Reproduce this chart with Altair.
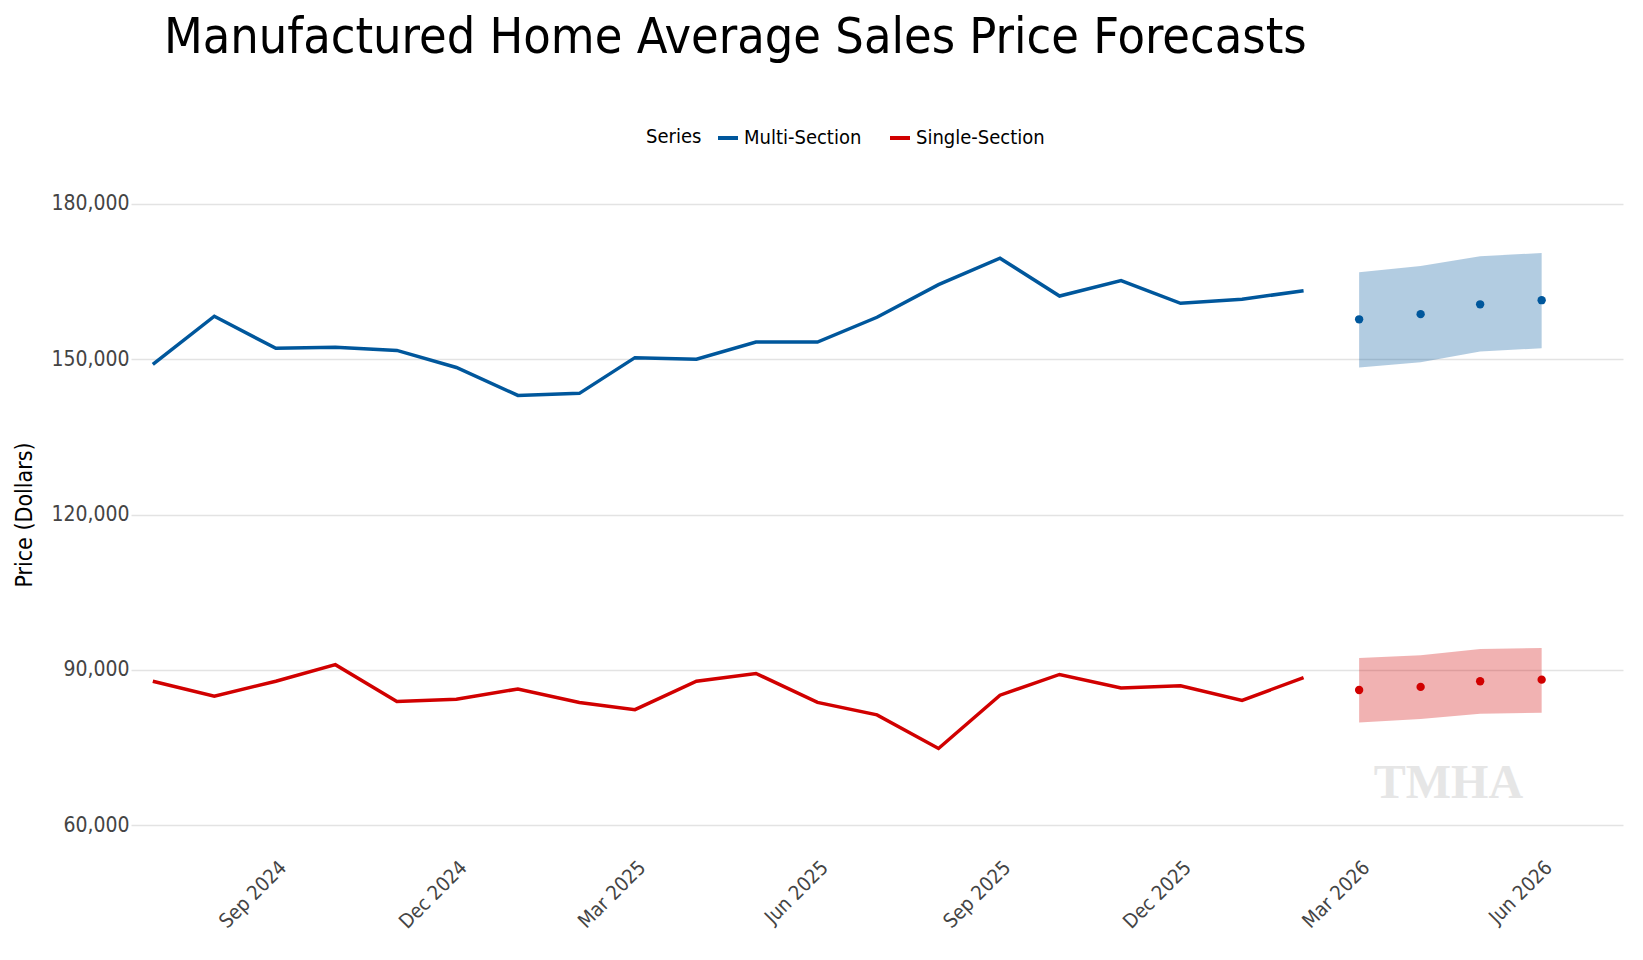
import altair as alt
import pandas as pd

months = pd.date_range("2024-07-01", "2026-02-01", freq="MS")
multi = [149000,158300,152100,152300,151700,148400,143000,143400,150300,150000,153300,153300,158100,164400,169500,162200,165200,160800,161600,163200]
single = [87800,84900,87800,91000,83900,84300,86300,83700,82300,87800,89300,83700,81300,74800,85100,89100,86500,86900,84100,88500]
fc_months = pd.date_range("2026-03-01", "2026-06-01", freq="MS")
multi_fc = [157700,158700,160600,161400]
multi_lo = [148400,149400,151500,152100]
multi_hi = [166800,168000,169900,170500]
single_fc = [86100,86700,87800,88100]
single_lo = [79800,80500,81500,81700]
single_hi = [92300,92800,94000,94200]

hist = pd.DataFrame({"date": list(months)*2, "value": multi+single,
                     "Series": ["Multi-Section"]*20+["Single-Section"]*20})
fc = pd.DataFrame({"date": list(fc_months)*2, "value": multi_fc+single_fc,
                   "lo": multi_lo+single_lo, "hi": multi_hi+single_hi,
                   "Series": ["Multi-Section"]*4+["Single-Section"]*4})

FONT = "DejaVu Sans Condensed, Roboto, sans-serif"
ydom = alt.Scale(domain=[55000,185000], nice=False, zero=False)
color = alt.Color("Series:N",
    scale=alt.Scale(domain=["Multi-Section","Single-Section"], range=["#00579c","#d10000"]),
    legend=alt.Legend(orient="none", legendX=515, legendY=-52, direction="horizontal", title="Series",
                      titleOrient="left", titleFontSize=20, titleFontWeight="normal",
                      labelFontSize=20, symbolType="stroke", symbolStrokeWidth=4,
                      symbolSize=400, symbolOpacity=1, titlePadding=14,
                      labelColor="#000", titleColor="#000", columnPadding=20))
tickvals = [pd.Timestamp(d).isoformat() for d in ["2024-09-01","2024-12-01","2025-03-01","2025-06-01","2025-09-01","2025-12-01","2026-03-01","2026-06-01"]]
x = alt.X("date:T", title=None,
          scale=alt.Scale(domain=["2024-06-20","2026-07-12"]),
          axis=alt.Axis(values=tickvals, format="%b %Y", labelAngle=-45, grid=False,
                        domain=False, ticks=False, labelFontSize=20, labelColor="#444",
                        labelAlign="right", labelBaseline="top", labelPadding=6))
y = alt.Y("value:Q", title="Price (Dollars)", scale=ydom,
          axis=alt.Axis(values=[60000,90000,120000,150000,180000], format=",.0f", domain=False,
                        ticks=False, labelFontSize=21, labelColor="#444", titleFontSize=23,
                        titleFontWeight="normal", titlePadding=14, gridColor="#e3e3e3", gridWidth=1.5))

band = alt.Chart(fc).mark_area(opacity=0.3).encode(
    x=x, y=alt.Y("lo:Q", scale=ydom), y2="hi:Q", color=color)
line = alt.Chart(hist).mark_line(strokeWidth=3.5).encode(x=x, y=y, color=color)
pts = alt.Chart(fc).mark_circle(size=70, opacity=1).encode(x=x, y="value:Q", color=color)
wm = alt.Chart(pd.DataFrame({"date":[pd.Timestamp("2026-04-15")], "value":[68000]})).mark_text(
    text="TMHA", fontSize=48, fontWeight="bold", font="Liberation Serif", color="#e6e6e6").encode(x=x, y="value:Q")

chart = alt.layer(band, line, pts, wm).properties(
    width=1620, height=930,
    autosize=alt.AutoSizeParams(type="fit", contains="padding"),
    title=alt.Title("Manufactured Home Average Sales Price Forecasts", fontSize=50,
                    fontWeight="normal", anchor="start", offset=115, dx=150)
).configure(font=FONT).configure_view(stroke=None)

chart.save("out.html", embed_options={"renderer": "svg", "actions": False})
